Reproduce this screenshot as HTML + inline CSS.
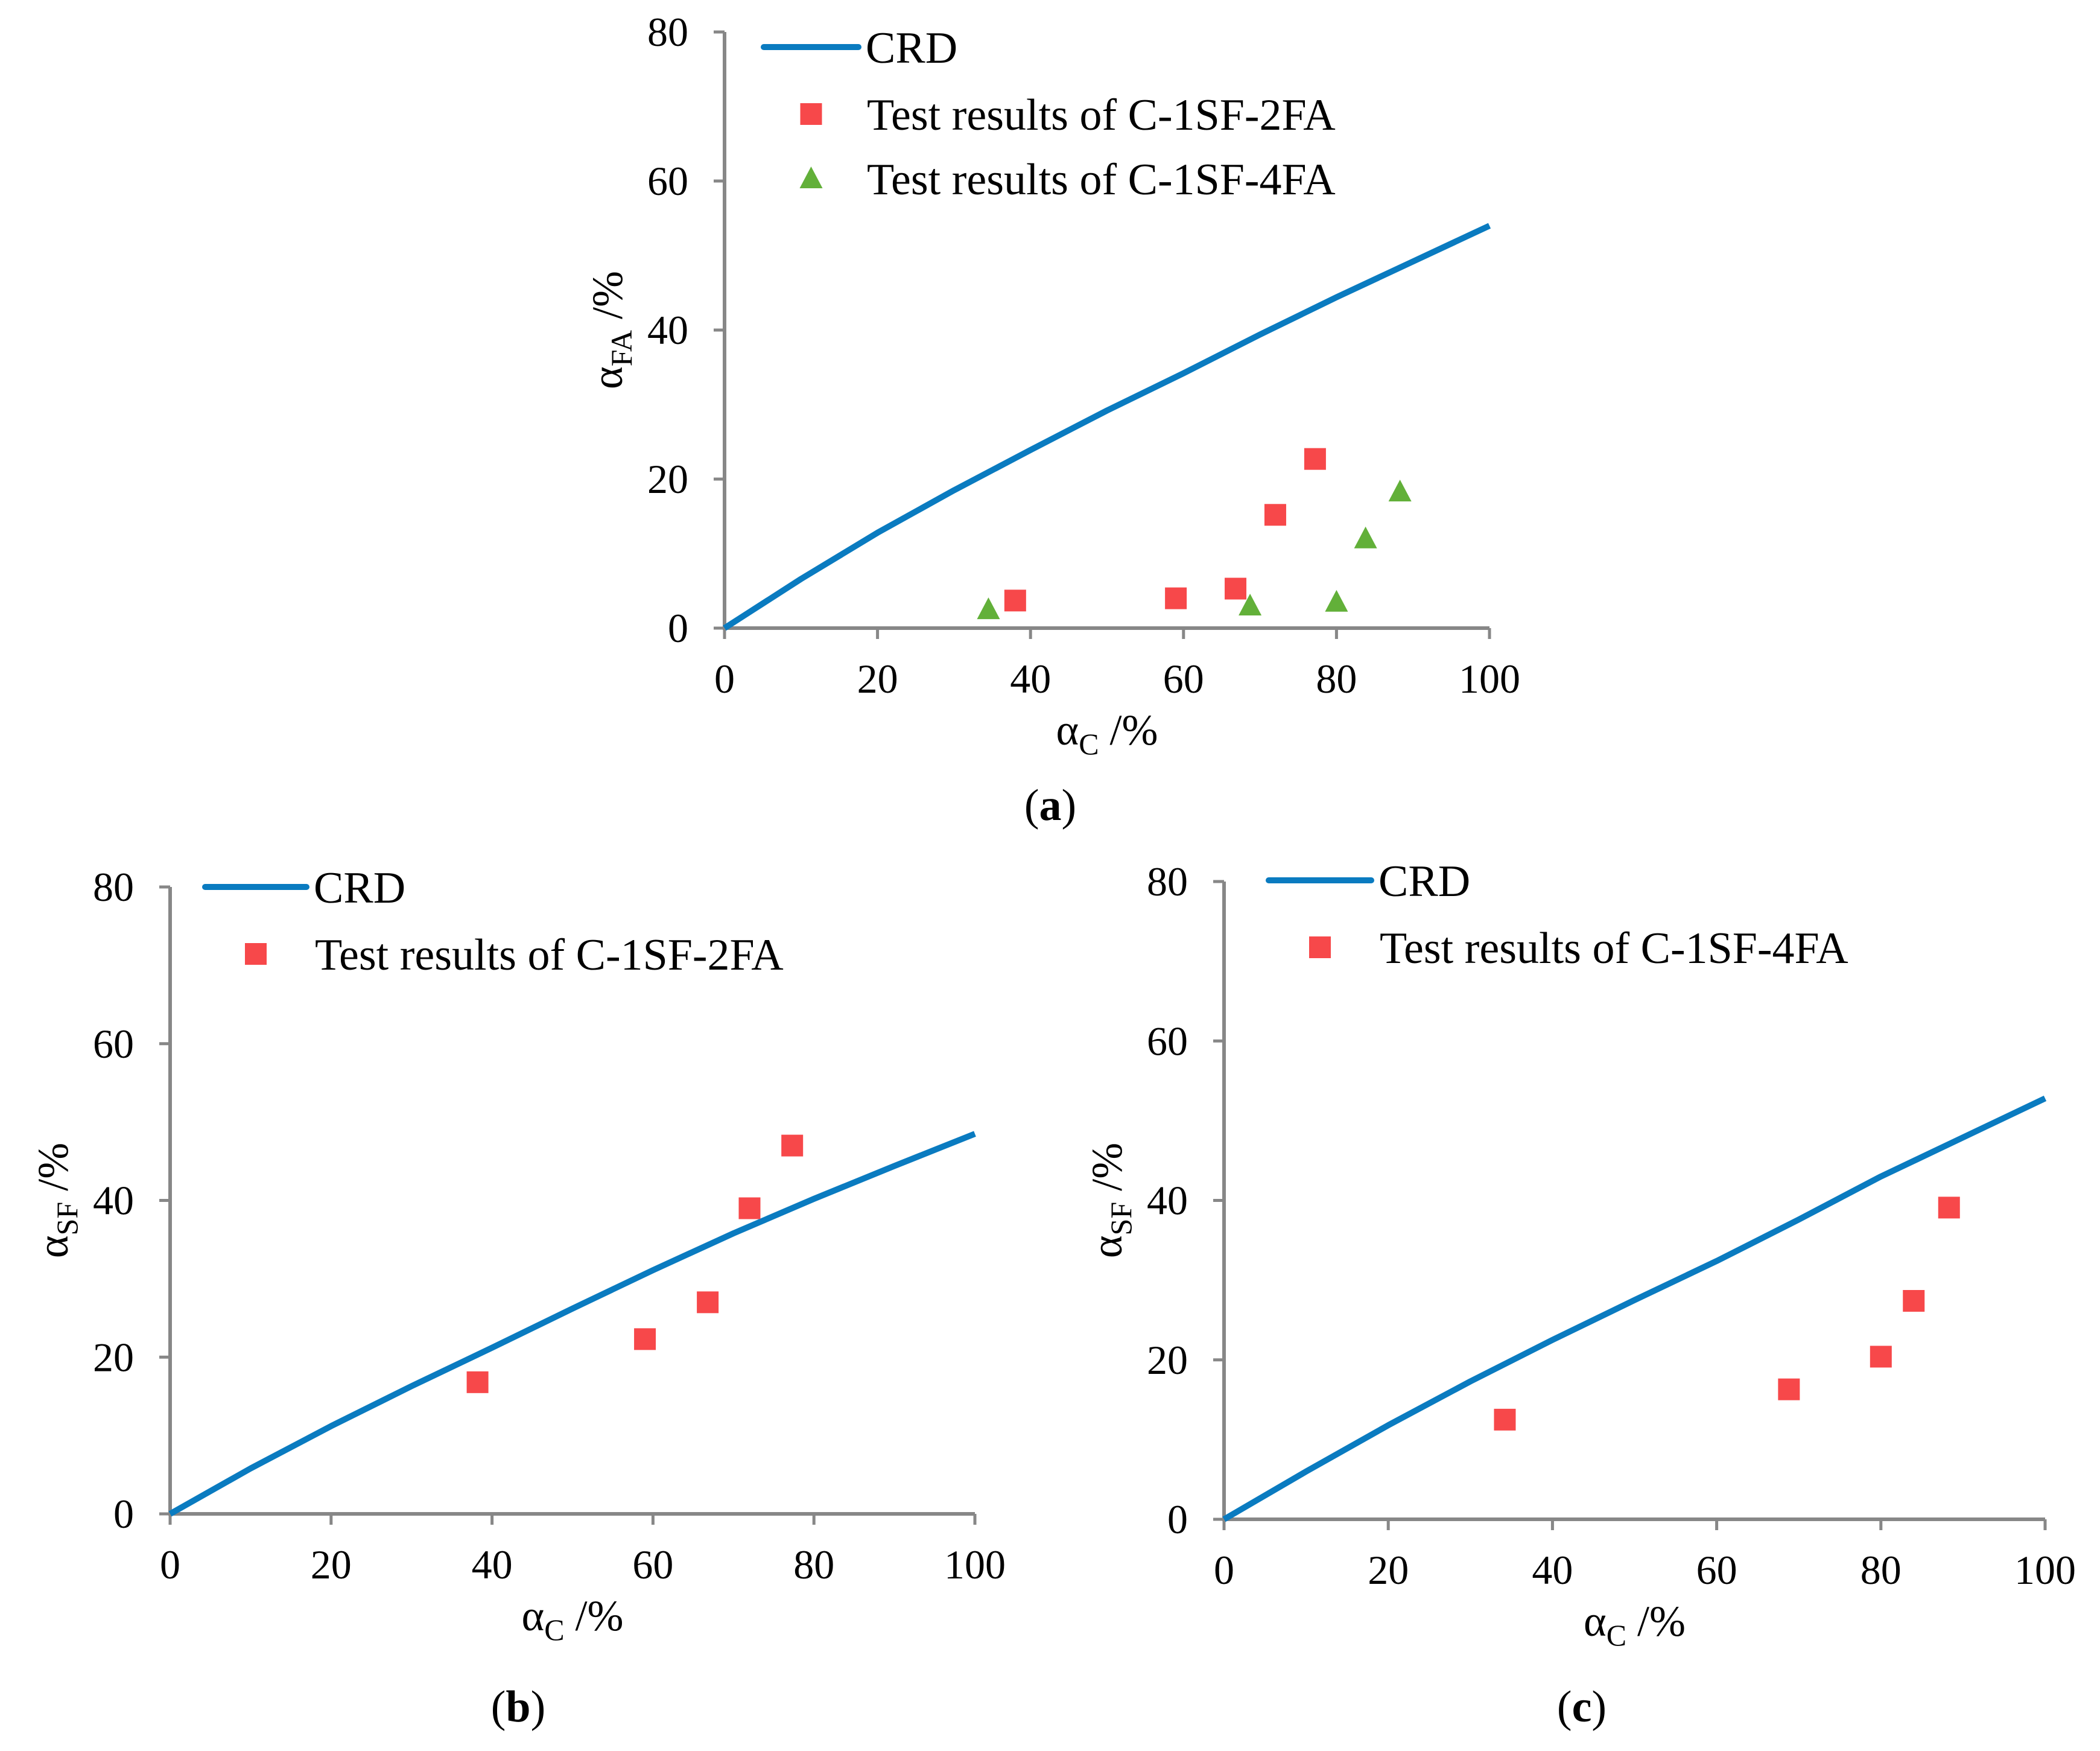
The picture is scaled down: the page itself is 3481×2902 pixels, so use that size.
<!DOCTYPE html>
<html><head><meta charset="utf-8"><style>
html,body{margin:0;padding:0;background:#fff;}
svg{display:block;font-family:"Liberation Serif",serif;}
</style></head><body>
<svg id="chart" width="3481" height="2902" viewBox="0 0 3481 2902" xmlns="http://www.w3.org/2000/svg">
<rect width="3481" height="2902" fill="#fff"/>
</svg>
<script>
const xTicks=[0,20,40,60,80,100];
const yTicks=[0,20,40,60,80];
const crdX=[0,10,20,30,40,50,60,70,80,90,100];
const crdA=[0,6.6,12.8,18.5,23.9,29.2,34.2,39.4,44.4,49.2,54];
const crdB=[0,5.8,11.2,16.3,21.2,26.2,31.1,35.8,40.2,44.4,48.5];
const crdC=[0,6,11.8,17.3,22.5,27.5,32.4,37.6,43,47.9,52.8];
const sqA_x=[38,59,66.8,72,77.2];
const sqA_y=[3.7,4,5.3,15.2,22.7];
const triA_x=[34.5,68.7,80,83.8,88.3];
const triA_y=[2.5,3,3.5,12,18.3];
const sqB_x=[38.2,59,66.8,72,77.3];
const sqB_y=[16.8,22.3,27,39,47];
const sqC_x=[34.2,68.8,80,84,88.3];
const sqC_y=[12.5,16.3,20.4,27.4,39.1];

const NS="http://www.w3.org/2000/svg";
const svg=document.getElementById('chart');
function mk(tag,attrs,parent,text){const e=document.createElementNS(NS,tag);for(const k in attrs)e.setAttribute(k,attrs[k]);if(text!==undefined)e.textContent=text;(parent||svg).appendChild(e);return e;}

function panel(p){
  const g=mk('g',{});
  
  
  const sx=v=>p.x0+(p.x1-p.x0)*v/100;
  const sy=v=>p.y0-(p.y0-p.y80)*v/80;
  const ax=mk('path',{d:`M${p.x0},${p.y80} L${p.x0},${p.y0} L${p.x1},${p.y0}`,stroke:'#878787','stroke-width':6,fill:'none'},g);
  
  
  xTicks.forEach(t=>{
    mk('line',{x1:sx(t),x2:sx(t),y1:p.y0,y2:p.y0+18,stroke:'#878787','stroke-width':5},g);
    const l=mk('text',{x:sx(t),y:p.y0+107,'font-size':68,'text-anchor':'middle',fill:'#000'},g,String(t));
    
    
  });
  yTicks.forEach(t=>{
    mk('line',{x1:p.x0-18,x2:p.x0,y1:sy(t),y2:sy(t),stroke:'#878787','stroke-width':5},g);
    const l=mk('text',{x:p.x0-60,y:sy(t)+23,'font-size':68,'text-anchor':'end',fill:'#000'},g,String(t));
    
    
  });
  const xt=mk('text',{x:(p.x0+p.x1)/2,y:p.y0+193,'font-size':72,'text-anchor':'middle',fill:'#000'},g);
  
  
  mk('tspan',{},xt,'α');mk('tspan',{'font-size':50,dy:16},xt,'C');mk('tspan',{dy:-16},xt,' /%');
  const cy=(p.y0+p.y80)/2;
  const yt=mk('text',{x:0,y:0,'font-size':72,'text-anchor':'middle',fill:'#000',transform:`translate(${p.x0-170},${cy}) rotate(-90)`},g);
  
  
  mk('tspan',{},yt,'α');mk('tspan',{'font-size':50,dy:16},yt,p.ysub);mk('tspan',{dy:-16},yt,' /%');
  const d=crdX.map((x,i)=>(i?'L':'M')+sx(x)+','+sy(p.crd[i])).join(' ');
  const ln=mk('path',{d:d,stroke:'#0a7bc0','stroke-width':10,fill:'none','stroke-linejoin':'round'},g);
  
  
  p.sqx.forEach((x,i)=>{
    const r=mk('rect',{x:sx(x)-18,y:sy(p.sqy[i])-18,width:36,height:36,fill:'#f7484a'},g);
    
    
  });
  if(p.trix){p.trix.forEach((x,i)=>{
    const X=sx(x),Y=sy(p.triy[i]);
    const t=mk('polygon',{points:`${X},${Y-20} ${X-19},${Y+16} ${X+19},${Y+16}`,fill:'#62b039'},g);
    
    
  });}
  const lg=mk('g',{},g);
  
  
  mk('line',{x1:p.lx1,x2:p.lx2,y1:p.ly,y2:p.ly,stroke:'#0a7bc0','stroke-width':10,'stroke-linecap':'round'},lg);
  mk('text',{x:p.lx2+12,y:p.ly+26,'font-size':74,fill:'#000'},lg,'CRD');
  const mx=(p.lx1+p.lx2)/2;
  p.labels.forEach((lab,i)=>{
    const yy=p.ly+111+i*107;
    if(p.marks[i]==='sq') mk('rect',{x:mx-18,y:yy-18,width:36,height:36,fill:'#f7484a'},lg);
    else mk('polygon',{points:`${mx},${yy-20} ${mx-19},${yy+16} ${mx+19},${yy+16}`,fill:'#62b039'},lg);
    mk('text',{x:p.lx2+14,y:yy+26,'font-size':74,fill:'#000'},lg,lab);
  });
  const cap=mk('text',{x:p.capx,y:p.capy,'font-size':74,'text-anchor':'middle',fill:'#000'},g);
  
  
  mk('tspan',{},cap,'(');mk('tspan',{'font-weight':'bold'},cap,p.id);mk('tspan',{},cap,')');
}
panel({id:'a',x0:1201,x1:2469,y0:1041,y80:53,ysub:'FA',crd:crdA,sqx:sqA_x,sqy:sqA_y,trix:triA_x,triy:triA_y,
  lx1:1266,lx2:1423,ly:78,labels:['Test results of C-1SF-2FA','Test results of C-1SF-4FA'],marks:['sq','tri'],capx:1741,capy:1359});
panel({id:'b',x0:282,x1:1616,y0:2509,y80:1470,ysub:'SF',crd:crdB,sqx:sqB_x,sqy:sqB_y,
  lx1:340,lx2:508,ly:1470,labels:['Test results of C-1SF-2FA'],marks:['sq'],capx:859,capy:2853});
panel({id:'c',x0:2029,x1:3390,y0:2518,y80:1461,ysub:'SF',crd:crdC,sqx:sqC_x,sqy:sqC_y,
  lx1:2103,lx2:2273,ly:1459,labels:['Test results of C-1SF-4FA'],marks:['sq'],capx:2622,capy:2853});
</script>
</body></html>
